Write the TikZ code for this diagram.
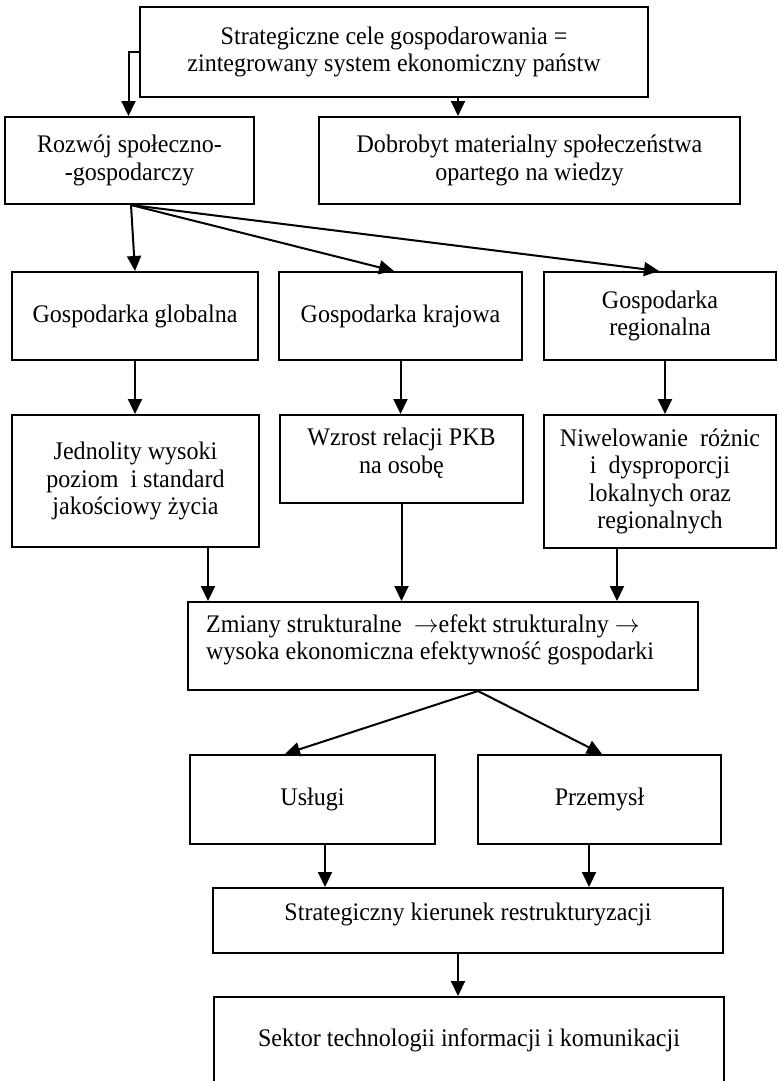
\documentclass[tikz,border=0pt]{standalone}
\usepackage{fontspec}
\setmainfont{Liberation Serif}[FakeStretch=0.95]
\usetikzlibrary{arrows.meta,calc}
\begin{document}
\begin{tikzpicture}[x=1pt,y=-1pt,
  txt/.style={align=center, inner sep=0pt, font=\fontsize{25.3}{27.5}\selectfont},
  box/.style={draw, line width=2pt, txt},
  arr/.style={line width=2pt, -{Triangle[length=15pt,width=14pt]}}]
\useasboundingbox (0,0) rectangle (777,1081);
% row 0
\node[box, minimum width=508pt, minimum height=90pt] (top) at (394,52)
  {Strategiczne cele gospodarowania =\\zintegrowany system ekonomiczny państw};
% row 1
\node[box, minimum width=249pt, minimum height=87pt] (rozwoj) at (129.5,160.5)
  {Rozwój społeczno-\\-gospodarczy};
\node[box, minimum width=421pt, minimum height=87pt] (dobrobyt) at (529.5,160.5)
  {Dobrobyt materialny społeczeństwa\\opartego na wiedzy};
% row 2
\node[box, minimum width=246pt, minimum height=88pt] (glob) at (135,316)
  {Gospodarka globalna};
\node[box, minimum width=243pt, minimum height=88pt] (kraj) at (400.5,316)
  {Gospodarka krajowa};
\node[box, minimum width=232pt, minimum height=88pt] (reg) at (660,316)
  {Gospodarka\\regionalna};
% row 3
\node[box, minimum width=247pt, minimum height=132pt] (jedn) at (135.5,481)
  {Jednolity wysoki\\poziom\ \ i standard\\jakościowy życia};
\node[box, minimum width=243pt, minimum height=88pt] (wzrost) at (401.5,459) {};
\node[txt] (wzrostT) at (401.5,453) {Wzrost relacji PKB\\na osobę};
\node[box, minimum width=232pt, minimum height=133pt] (niwel) at (660,481.5)
  {Niwelowanie\ \ różnic\\i\ \ dysproporcji\\lokalnych oraz\\regionalnych};
% row 4
\node[box, minimum width=510pt, minimum height=88pt] (zmiany) at (443,646) {};
\node[txt, align=left, anchor=west] (zmianyT) at (206,640)
  {Zmiany strukturalne\ \ $\rightarrow$efekt strukturalny $\rightarrow$\\wysoka ekonomiczna efektywność gospodarki};
% row 5
\node[box, minimum width=245pt, minimum height=89pt] (uslugi) at (312.5,799.5) {Usługi};
\node[box, minimum width=243pt, minimum height=89pt] (przemysl) at (599.5,799.5) {Przemysł};
% row 6
\node[box, minimum width=510pt, minimum height=65pt] (strat) at (468,920.5) {};
\node[txt] (stratT) at (468,914) {Strategiczny kierunek restrukturyzacji};
% row 7
\node[box, minimum width=510pt, minimum height=86pt] (sektor) at (469,1040)
  {Sektor technologii informacji i komunikacji};
% connectors
\draw[arr] (top.west) -| ([xshift=-1pt]rozwoj.north);
\draw[arr] ([xshift=64pt]top.south) -- ([xshift=64pt]top.south |- dobrobyt.north);
\coordinate (rs) at ([xshift=1.5pt]rozwoj.south);
\draw[arr] (rs) -- (glob.north);
\draw[arr] (rs) -- ([xshift=-6.5pt]kraj.north);
\draw[arr] (rs) -- ([xshift=-1pt]reg.north);
\draw[arr] (glob.south) -- (glob.south |- jedn.north);
\draw[arr] (kraj.south) -- (kraj.south |- wzrost.north);
\draw[arr] ([xshift=5pt]reg.south) -- ([xshift=5pt]reg.south |- niwel.north);
\draw[arr] ([xshift=72.5pt]jedn.south) -- ([xshift=72.5pt]jedn.south |- zmiany.north);
\draw[arr] (wzrost.south) -- (wzrost.south |- zmiany.north);
\draw[arr] ([xshift=-43pt]niwel.south) -- ([xshift=-43pt]niwel.south |- zmiany.north);
\coordinate (zs) at ([xshift=35pt]zmiany.south);
\draw[arr] (zs) -- ([xshift=-27.5pt]uslugi.north);
\draw[arr] (zs) -- ([xshift=2.5pt]przemysl.north);
\draw[arr] ([xshift=12.5pt]uslugi.south) -- ([xshift=12.5pt]uslugi.south |- strat.north);
\draw[arr] ([xshift=-10.5pt]przemysl.south) -- ([xshift=-10.5pt]przemysl.south |- strat.north);
\draw[arr] ([xshift=-10pt]strat.south) -- ([xshift=-10pt]strat.south |- sektor.north);
\end{tikzpicture}
\end{document}
